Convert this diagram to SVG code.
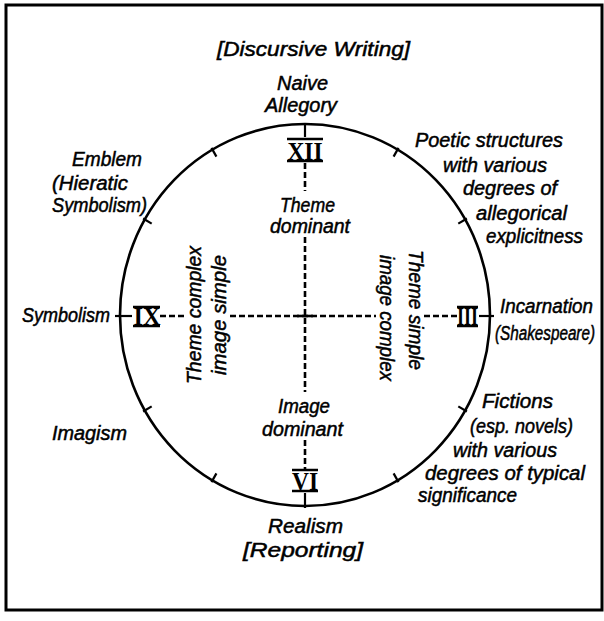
<svg xmlns="http://www.w3.org/2000/svg" width="604" height="621" viewBox="0 0 604 621">
<style>
.t{font-family:"Liberation Sans",Arial,sans-serif;font-style:italic;font-size:20px;fill:#000;stroke:#000;stroke-width:0.5}
.r{font-family:"Liberation Serif","Times New Roman",serif;font-weight:bold;font-size:26px;fill:#000;text-anchor:middle}
.bar{stroke:#000;stroke-width:2.5}
.dash{stroke:#000;stroke-width:2.6;stroke-dasharray:6 3;fill:none}
.tick{stroke:#000;stroke-width:2.2;fill:none}
.m{text-anchor:middle}
</style>
<rect x="6" y="5" width="596" height="605" fill="#fff" stroke="#000" stroke-width="3"/>
<g id="circle">
<ellipse cx="305" cy="315" rx="185" ry="191" fill="none" stroke="#000" stroke-width="2.6"/>
<g class="tick">
<line x1="398.5" y1="147.9" x2="393.6" y2="156.6"/>
<line x1="466.9" y1="218.5" x2="458.3" y2="223.6"/>
<line x1="466.9" y1="411.5" x2="458.3" y2="406.4"/>
<line x1="398.5" y1="482.1" x2="393.6" y2="473.4"/>
<line x1="211.5" y1="482.1" x2="216.4" y2="473.4"/>
<line x1="143.1" y1="411.5" x2="151.7" y2="406.4"/>
<line x1="143.1" y1="218.5" x2="151.7" y2="223.6"/>
<line x1="211.5" y1="147.9" x2="216.4" y2="156.6"/>
<line x1="305" y1="123" x2="305" y2="137"/>
<line x1="305" y1="493" x2="305" y2="508"/>
<line x1="115" y1="316" x2="132" y2="316"/>
<line x1="479" y1="316" x2="494" y2="316"/>
</g>
</g>
<g id="connectors">
<line class="dash" x1="305" y1="163" x2="305" y2="191"/>
<line class="dash" x1="305" y1="237" x2="305" y2="392"/>
<line class="dash" x1="305" y1="440" x2="305" y2="470"/>
<line class="dash" x1="160" y1="316" x2="186" y2="316"/>
<line class="dash" x1="230" y1="316" x2="376" y2="316"/>
<line class="dash" x1="424" y1="316" x2="457" y2="316"/>
<line x1="297" y1="316" x2="313" y2="316" stroke="#000" stroke-width="2.6"/>
</g>
<g id="xii">
<text class="r" x="305" y="160" textLength="35" lengthAdjust="spacingAndGlyphs">XII</text>
<line class="bar" x1="287" y1="139" x2="323" y2="139"/><line class="bar" x1="287" y1="161" x2="323" y2="161"/>
</g>
<g id="vi">
<text class="r" x="305" y="490" textLength="26" lengthAdjust="spacingAndGlyphs">VI</text>
<line class="bar" x1="292" y1="470" x2="318" y2="470"/><line class="bar" x1="292" y1="491" x2="318" y2="491"/>
</g>
<g id="ix">
<text class="r" x="147" y="325" textLength="27" lengthAdjust="spacingAndGlyphs">IX</text>
<line class="bar" x1="133" y1="307" x2="160" y2="307"/><line class="bar" x1="133" y1="326" x2="160" y2="326"/>
</g>
<g id="iii">
<text class="r" x="467.5" y="325" textLength="21" lengthAdjust="spacingAndGlyphs">III</text>
<line class="bar" x1="457" y1="307" x2="478" y2="307"/><line class="bar" x1="457" y1="326" x2="478" y2="326"/>
</g>
<g id="discursive"><text class="t" x="217" y="56" textLength="193" lengthAdjust="spacingAndGlyphs" font-size="22">[Discursive Writing]</text></g>
<g id="naive">
<text class="t" x="277" y="90" textLength="51" lengthAdjust="spacingAndGlyphs">Naive</text>
<text class="t" x="265" y="112" textLength="72" lengthAdjust="spacingAndGlyphs">Allegory</text>
</g>
<g id="poetic">
<text class="t" x="415" y="147" textLength="148" lengthAdjust="spacingAndGlyphs">Poetic structures</text>
<text class="t" x="443" y="172" textLength="104" lengthAdjust="spacingAndGlyphs">with various</text>
<text class="t" x="463" y="195" textLength="94" lengthAdjust="spacingAndGlyphs">degrees of</text>
<text class="t" x="476" y="220" textLength="91" lengthAdjust="spacingAndGlyphs">allegorical</text>
<text class="t" x="486" y="243" textLength="97" lengthAdjust="spacingAndGlyphs">explicitness</text>
</g>
<g id="emblem">
<text class="t" x="72" y="166" textLength="70" lengthAdjust="spacingAndGlyphs">Emblem</text>
<text class="t" x="52" y="190" textLength="76" lengthAdjust="spacingAndGlyphs">(Hieratic</text>
<text class="t" x="52" y="212" textLength="95" lengthAdjust="spacingAndGlyphs">Symbolism)</text>
</g>
<g id="symbolism"><text class="t" x="22" y="322" textLength="88" lengthAdjust="spacingAndGlyphs">Symbolism</text></g>
<g id="imagism"><text class="t" x="52" y="440" textLength="75" lengthAdjust="spacingAndGlyphs">Imagism</text></g>
<g id="incarnation">
<text class="t" x="500" y="313" textLength="93" lengthAdjust="spacingAndGlyphs">Incarnation</text>
<text class="t" x="495" y="340" textLength="100" lengthAdjust="spacingAndGlyphs">(Shakespeare)</text>
</g>
<g id="fictions">
<text class="t" x="482" y="408" textLength="71" lengthAdjust="spacingAndGlyphs">Fictions</text>
<text class="t" x="470" y="433" textLength="103" lengthAdjust="spacingAndGlyphs">(esp. novels)</text>
<text class="t" x="453" y="457" textLength="104" lengthAdjust="spacingAndGlyphs">with various</text>
<text class="t" x="425" y="480" textLength="160" lengthAdjust="spacingAndGlyphs">degrees of typical</text>
<text class="t" x="418" y="502" textLength="99" lengthAdjust="spacingAndGlyphs">significance</text>
</g>
<g id="theme-dominant">
<text class="t" x="280" y="212" textLength="55" lengthAdjust="spacingAndGlyphs">Theme</text>
<text class="t" x="270" y="233" textLength="80" lengthAdjust="spacingAndGlyphs">dominant</text>
</g>
<g id="image-dominant">
<text class="t" x="278" y="413" textLength="52" lengthAdjust="spacingAndGlyphs">Image</text>
<text class="t" x="262" y="436" textLength="81" lengthAdjust="spacingAndGlyphs">dominant</text>
</g>
<g id="realism">
<text class="t" x="268" y="533" textLength="75" lengthAdjust="spacingAndGlyphs">Realism</text>
<text class="t" x="243" y="557" textLength="120" lengthAdjust="spacingAndGlyphs">[Reporting]</text>
</g>
<g id="theme-complex">
<text class="t m" transform="translate(201,315) rotate(-90)" textLength="138" lengthAdjust="spacingAndGlyphs">Theme complex</text>
<text class="t m" transform="translate(226,315) rotate(-90)" textLength="120" lengthAdjust="spacingAndGlyphs">image simple</text>
</g>
<g id="theme-simple">
<text class="t m" transform="translate(409,310) rotate(90)" textLength="120" lengthAdjust="spacingAndGlyphs">Theme simple</text>
<text class="t m" transform="translate(380,318) rotate(90)" textLength="126" lengthAdjust="spacingAndGlyphs">image complex</text>
</g>
</svg>
